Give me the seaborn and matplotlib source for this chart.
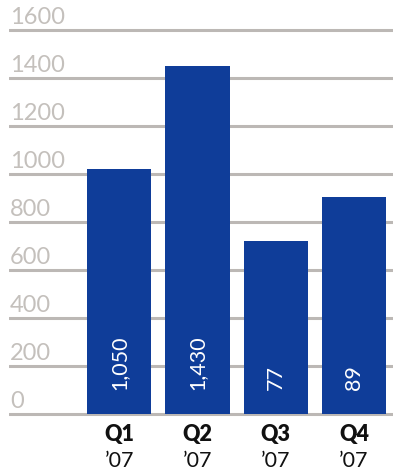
import matplotlib
matplotlib.use("Agg")
import matplotlib.pyplot as plt
import seaborn as sns
import pandas as pd

quarters = ["Q1", "Q2", "Q3", "Q4"]
years = ["’07", "’07", "’07", "’07"]
values = [1020, 1450, 720, 905]
bar_labels = ["1,050", "1,430", "77", "89"]
yticks = [0, 200, 400, 600, 800, 1000, 1200, 1400, 1600]

sns.set_theme(style="white")
plt.rcParams["font.family"] = ["Lato", "DejaVu Sans"]

W, H = 393, 471
fig = plt.figure(figsize=(W / 100, H / 100), dpi=100)
ax = fig.add_axes([9 / W, 51 / H, 384 / W, 420 / H])

df = pd.DataFrame({"q": quarters, "v": values})
sns.barplot(data=df, x="q", y="v", ax=ax, color="#0f3d99", saturation=1,
            width=0.82, linewidth=0, zorder=3)

ax.set_ylim(-25, 1725)
ax.set_xlim(-1.41, 3.5)
for t in yticks:
    ax.axhline(t, color="#bcb8b5", lw=2.2, zorder=1)
    ax.text(0.003, t + 25, str(t), transform=ax.get_yaxis_transform(),
            color="#c4c0bc", fontsize=17, fontweight="normal",
            ha="left", va="baseline", zorder=2)

for i, (lab, q, yr) in enumerate(zip(bar_labels, quarters, years)):
    ax.text(i, 100, lab, rotation=90, color="white", fontsize=15.5,
            fontweight="normal", ha="center", va="bottom", zorder=4)
    ax.text(i, -15 / 420, q, transform=ax.get_xaxis_transform(),
            fontsize=15.5, fontweight="heavy", color="#111111",
            ha="center", va="center")
    ax.text(i, -41 / 420, yr, transform=ax.get_xaxis_transform(),
            fontsize=15.5, color="#111111", ha="center", va="center")

ax.set_xticks([])
ax.set_yticks([])
ax.set_xlabel("")
ax.set_ylabel("")
for s in ax.spines.values():
    s.set_visible(False)

fig.savefig("out.png", dpi=100)
